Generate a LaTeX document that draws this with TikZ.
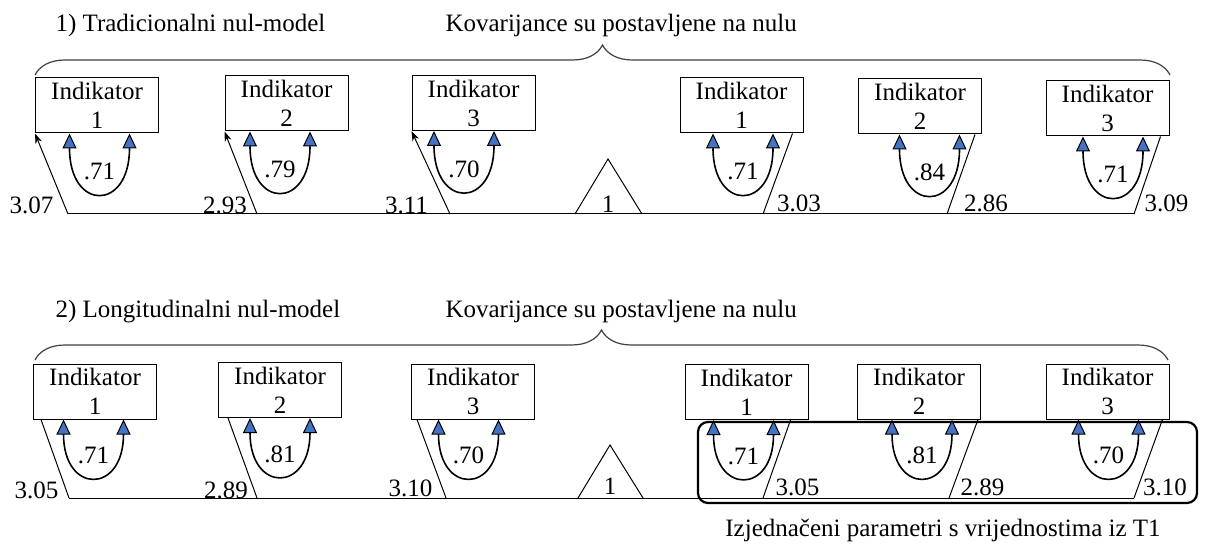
\documentclass[tikz,border=0pt]{standalone}
\usepackage{fontspec}
\setmainfont{Liberation Serif}
\usetikzlibrary{arrows.meta,decorations.pathreplacing}
\definecolor{covblue}{RGB}{68,114,196}

\begin{document}
\begin{tikzpicture}[
  x=1pt, y=-1pt,
  every node/.style={font=\fontsize{25}{29}\selectfont},
  ind/.style={
    draw, line width=1pt, align=center,
    minimum width=123pt, minimum height=55pt, inner sep=1pt
  },
  cov/.style={
    line width=1.6pt,
    {Triangle[length=15pt,width=14pt,fill=covblue,line width=1pt]}-{Triangle[length=15pt,width=14pt,fill=covblue,line width=1pt]}
  },
  lam/.style={line width=1pt},
  br/.style={
    decorate, decoration={brace, amplitude=30pt},
    line width=1.2pt, black!75
  }
]
  \useasboundingbox (0,0) rectangle (1206,545);

  % 1) traditional model
  \node[anchor=base west] (t1) at (52,32) {1) Tradicionalni nul-model};
  \node[anchor=base west] (k1) at (442,32) {Kovarijance su postavljene na nulu};
  \coordinate (bl1) at (35,75);
  \coordinate (br1) at (1170,75);
  \draw[br] (bl1) -- (br1);

  \foreach \n/\x/\y/\t in {a1/97/105.5/1, a2/286.5/103.5/2, a3/473.5/103/3,
                           a4/741.5/105.5/1, a5/920/106.5/2, a6/1107.5/108.5/3} {
    \node[ind] (\n) at (\x,\y) {Indikator\\\t};
  }
  \foreach \n/\d/\v in {a1/2.5/.71, a2/-6.5/.79, a3/-9.5/.70,
                        a4/1.5/.71, a5/9.5/.84, a6/5.5/.71} {
    \draw[cov] ([xshift=\d pt-30pt]\n.south) .. controls +(0,78) and +(0,78)
      .. ([xshift=\d pt+30pt]\n.south) node[midway, above=11pt, inner sep=0pt] {\v};
  }

  \coordinate (p1) at (68,214);
  \coordinate (p2) at (257,214);
  \coordinate (p3) at (450,214);
  \coordinate (q1) at (763,214);
  \coordinate (q2) at (947,214);
  \coordinate (q3) at (1134,214);
  \draw[lam] (p1) -- (q3);
  \draw[lam, -{Stealth[length=10pt,width=7pt]}] (p1) -- (a1.south west);
  \draw[lam, -{Stealth[length=10pt,width=7pt]}] (p2) -- (a2.south west);
  \draw[lam, -{Stealth[length=10pt,width=7pt]}] (p3) -- (a3.south west);
  \draw[lam] (q1) -- ([xshift=-11pt]a4.south east);
  \draw[lam] (q2) -- ([xshift=-7pt]a5.south east);
  \draw[lam] (q3) -- ([xshift=-9pt]a6.south east);

  \node (e1) at (31.5,205) {3.07};
  \node (e2) at (225,205) {2.93};
  \node (e3) at (406.5,205) {3.11};
  \node (e4) at (799,203) {3.03};
  \node (e5) at (986,203) {2.86};
  \node (e6) at (1166.5,203) {3.09};

  \node (one1) at (608,204) {1};
  \draw[lam] (575,214) -- (608,159) -- (642,214);

  % 2) longitudinal model
  \node[anchor=base west] (t2) at (52,317) {2) Longitudinalni nul-model};
  \node[anchor=base west] (k2) at (442,317) {Kovarijance su postavljene na nulu};
  \coordinate (bl2) at (35,360);
  \coordinate (br2) at (1168,360);
  \draw[br] (bl2) -- (br2);

  \foreach \n/\x/\y/\t in {b1/95/391.5/1, b2/280/390/2, b3/473/391.5/3,
                           b4/746.5/392/1, b5/919/391.5/2, b6/1107.5/391.5/3} {
    \node[ind] (\n) at (\x,\y) {Indikator\\\t};
  }
  \foreach \n/\d/\v in {b1/-1.5/.71, b2/0/.81, b3/-4.5/.70,
                        b4/-3/.71, b5/3/.81, b6/1/.70} {
    \draw[cov] ([xshift=\d pt-30pt]\n.south) .. controls +(0,75) and +(0,75)
      .. ([xshift=\d pt+30pt]\n.south) node[midway, above=11pt, inner sep=0pt] {\v};
  }

  \coordinate (r1) at (69,498);
  \coordinate (r2) at (257,498);
  \coordinate (r3) at (446,498);
  \coordinate (s1) at (763,498);
  \coordinate (s2) at (949,498);
  \coordinate (s3) at (1134,498);
  \draw[lam] (r1) -- (s3);
  \draw[lam] (r1) -- ([xshift=8pt]b1.south west);
  \draw[lam] (r2) -- ([xshift=10pt]b2.south west);
  \draw[lam] (r3) -- ([xshift=6pt]b3.south west);
  \draw[lam] (s1) -- ([xshift=-18pt]b4.south east);
  \draw[lam] (s2) -- ([xshift=-3pt]b5.south east);
  \draw[lam] (s3) -- ([xshift=-7pt]b6.south east);

  \node (f1) at (36.5,490) {3.05};
  \node (f2) at (226,490) {2.89};
  \node (f3) at (410.5,488) {3.10};
  \node (f4) at (797.5,487) {3.05};
  \node (f5) at (982.5,487) {2.89};
  \node (f6) at (1165,487) {3.10};

  \node (one2) at (610,486) {1};
  \draw[lam] (578,498) -- (610,445) -- (643,498);

  % equal parameters
  \draw[line width=2.2pt, rounded corners=10pt] (698,422) rectangle (1197,503);
  \node (cap) at (943,530) {Izjednačeni parametri s vrijednostima iz T1};
\end{tikzpicture}
\end{document}
